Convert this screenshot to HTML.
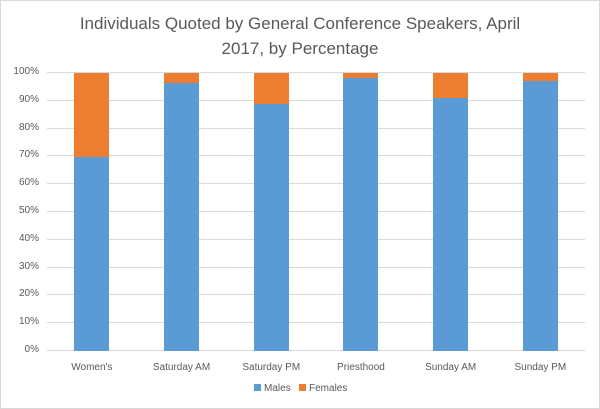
<!DOCTYPE html><html><head><style>
body{margin:0;background:#fff}
.c{position:relative;width:598px;height:407px;border:1px solid #d9d9d9;font-family:"Liberation Sans",sans-serif;overflow:hidden}
.t{position:absolute;left:0;width:598px;top:10px;text-align:center;font-size:17px;color:#595959;line-height:25px}
.g{position:absolute;left:46px;width:538px;height:1px;background:#d9d9d9}
.y{position:absolute;left:0;width:38px;text-align:right;font-size:10px;color:#595959}
.b{position:absolute;width:35px}
.x{position:absolute;width:90px;text-align:center;font-size:10px;color:#595959;top:361px}
</style></head><body><div class="c">
<div class="t">Individuals Quoted by General Conference Speakers, April<br>2017, by Percentage</div>
<div id="grid"></div>
<script>
var h='';for(var i=0;i<=10;i++){var y=350-i*27.8;h+='<div class="g" style="top:'+(y-1).toFixed(1)+'px"></div><div class="y" style="top:'+(y-7).toFixed(1)+'px">'+(i*10)+'%</div>';}
var d=[["Women's",69.8],["Saturday AM",96.5],["Saturday PM",88.7],["Priesthood",98.3],["Sunday AM",91],["Sunday PM",97.3]];
d.forEach(function(e,k){var cx=46+89.7*(k+0.5);var l=cx-17.5;var mh=278*e[1]/100;
h+='<div class="b" style="left:'+l+'px;top:72px;height:'+(278-mh)+'px;background:#ed7d31"></div>';
h+='<div class="b" style="left:'+l+'px;top:'+(350-mh)+'px;height:'+mh+'px;background:#5b9bd5"></div>';
h+='<div class="x" style="left:'+(cx-45)+'px">'+e[0]+'</div>';});
document.getElementById('grid').outerHTML=h;
</script>
<div style="position:absolute;top:382px;left:253px;font-size:10px;color:#595959;white-space:nowrap"><span style="display:inline-block;width:7px;height:7px;background:#5b9bd5;margin-right:3px"></span>Males&nbsp;&nbsp;&nbsp;<span style="display:inline-block;width:7px;height:7px;background:#ed7d31;margin-right:3px"></span>Females</div>
</div></body></html>
